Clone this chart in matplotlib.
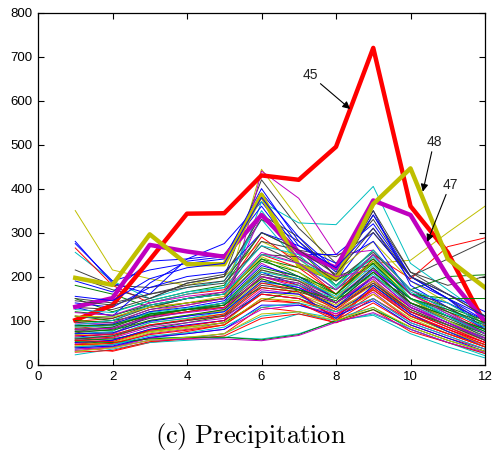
import matplotlib
matplotlib.use('Agg')
import matplotlib.pyplot as plt

months = list(range(1, 13))

# highlighted stations
s45 = [101, 135, 238, 343, 344, 430, 420, 495, 720, 360, 255, 92]
s47 = [131, 151, 272, 257, 245, 340, 255, 220, 373, 340, 200, 98]
s48 = [197, 181, 296, 228, 228, 386, 225, 195, 365, 446, 240, 175]

series = [
    [62, 70, 110, 125, 140, 210, 180, 140, 190, 120, 90, 60],
    [45, 55, 80, 95, 110, 160, 150, 120, 170, 110, 75, 45],
    [98, 105, 130, 140, 150, 250, 220, 160, 240, 160, 120, 80],
    [255, 190, 150, 175, 190, 330, 230, 170, 250, 150, 110, 60],
    [75, 85, 120, 135, 150, 230, 190, 150, 220, 130, 90, 55],
    [350, 215, 195, 180, 200, 280, 240, 180, 230, 237, 300, 360],
    [215, 180, 175, 190, 205, 330, 280, 200, 340, 210, 160, 110],
    [280, 185, 160, 240, 275, 370, 260, 190, 300, 200, 150, 100],
    [180, 160, 130, 150, 160, 240, 200, 170, 230, 150, 100, 70],
    [265, 180, 140, 160, 170, 290, 230, 160, 250, 195, 268, 288],
    [35, 45, 60, 62, 62, 58, 70, 98, 115, 80, 50, 20],
    [55, 60, 85, 95, 105, 170, 160, 120, 175, 110, 80, 50],
    [85, 90, 120, 135, 150, 444, 330, 210, 280, 190, 140, 90],
    [130, 125, 150, 185, 200, 420, 310, 230, 330, 200, 240, 280],
    [275, 190, 215, 230, 240, 400, 280, 210, 350, 180, 130, 80],
    [150, 120, 145, 165, 180, 300, 260, 180, 260, 170, 200, 204],
    [50, 40, 60, 75, 90, 150, 140, 105, 160, 100, 70, 40],
    [70, 75, 115, 125, 135, 370, 322, 318, 405, 230, 170, 110],
    [40, 45, 70, 80, 95, 440, 378, 250, 260, 170, 120, 70],
    [60, 65, 95, 105, 115, 190, 160, 130, 180, 120, 85, 55],
    [95, 100, 130, 150, 165, 280, 260, 245, 300, 200, 150, 90],
    [190, 165, 235, 240, 250, 360, 250, 250, 320, 200, 150, 80],
    [110, 100, 115, 125, 130, 175, 165, 140, 200, 150, 120, 90],
    [40, 30, 50, 60, 70, 130, 120, 95, 140, 90, 60, 35],
    [30, 40, 55, 60, 70, 110, 120, 105, 130, 80, 50, 25],
    [48, 55, 78, 88, 100, 160, 150, 115, 165, 100, 70, 45],
    [100, 95, 110, 125, 140, 215, 190, 160, 200, 140, 110, 80],
    [72, 80, 105, 120, 135, 215, 195, 150, 210, 140, 100, 65],
    [140, 130, 175, 200, 210, 300, 270, 230, 280, 160, 140, 100],
    [55, 58, 75, 85, 95, 145, 170, 150, 180, 120, 90, 60],
    [82, 90, 110, 120, 130, 200, 180, 130, 190, 130, 95, 60],
    [105, 110, 140, 160, 175, 350, 240, 180, 250, 150, 115, 75],
    [65, 70, 100, 110, 125, 200, 175, 140, 195, 120, 85, 50],
    [45, 50, 75, 85, 95, 165, 155, 125, 170, 110, 75, 45],
    [150, 140, 160, 175, 185, 270, 230, 200, 230, 140, 110, 80],
    [88, 92, 120, 130, 145, 225, 200, 150, 215, 150, 110, 70],
    [120, 112, 135, 150, 160, 240, 220, 190, 240, 160, 130, 100],
    [58, 62, 90, 100, 110, 175, 165, 100, 175, 115, 80, 50],
    [22, 35, 50, 55, 60, 90, 115, 100, 112, 70, 40, 15],
    [35, 40, 60, 70, 80, 125, 135, 115, 150, 95, 65, 35],
    [68, 72, 100, 112, 122, 195, 170, 135, 190, 125, 90, 60],
    [200, 170, 150, 185, 200, 340, 290, 200, 350, 210, 180, 200],
    [130, 110, 185, 235, 245, 390, 290, 215, 340, 200, 160, 120],
    [80, 85, 115, 125, 140, 220, 200, 160, 230, 150, 110, 75],
    s45,
    [60, 65, 95, 105, 120, 185, 180, 150, 205, 135, 100, 55],
    s47,
    s48,
    [110, 105, 135, 150, 160, 250, 245, 190, 255, 170, 130, 85],
    [50, 55, 80, 90, 100, 165, 160, 105, 180, 115, 75, 40],
    [100, 95, 125, 140, 150, 235, 210, 160, 235, 160, 150, 150],
    [28, 32, 52, 58, 65, 105, 115, 95, 125, 75, 50, 25],
    [125, 118, 145, 165, 175, 270, 250, 175, 260, 170, 140, 90],
    [92, 95, 125, 135, 150, 340, 240, 200, 215, 135, 95, 55],
    [42, 48, 72, 82, 90, 150, 145, 120, 160, 105, 70, 40],
    [78, 82, 110, 125, 135, 205, 190, 140, 210, 140, 105, 70],
    [38, 42, 62, 70, 80, 135, 135, 110, 145, 90, 60, 30],
    [52, 50, 58, 62, 62, 56, 68, 100, 125, 85, 55, 30],
    [65, 68, 90, 102, 115, 185, 170, 125, 185, 120, 85, 50],
    [90, 100, 135, 150, 160, 250, 230, 170, 245, 165, 125, 85],
    [32, 38, 55, 58, 58, 54, 66, 96, 118, 80, 50, 28],
    [110, 108, 130, 140, 155, 245, 210, 150, 235, 150, 100, 60],
    [58, 65, 88, 100, 112, 180, 170, 130, 185, 125, 90, 55],
    [155, 145, 195, 220, 230, 380, 270, 220, 310, 190, 150, 110],
    [75, 78, 100, 112, 125, 200, 185, 140, 210, 140, 110, 80],
    [45, 48, 68, 78, 90, 145, 140, 100, 150, 100, 70, 40],
    [85, 88, 118, 128, 140, 210, 195, 155, 225, 150, 110, 70],
    [118, 112, 140, 155, 165, 255, 230, 170, 250, 160, 115, 70],
    [30, 38, 55, 62, 70, 115, 120, 100, 130, 85, 55, 30],
    [145, 135, 160, 180, 190, 300, 260, 205, 310, 200, 160, 110],
    [70, 72, 98, 110, 120, 190, 175, 130, 200, 130, 95, 60],
    [88, 90, 112, 125, 135, 195, 170, 145, 220, 150, 125, 95],
    [55, 52, 78, 88, 100, 160, 150, 110, 170, 110, 80, 45],
    [40, 45, 65, 72, 85, 130, 140, 120, 150, 95, 65, 35],
    [80, 82, 108, 118, 128, 200, 185, 140, 200, 130, 95, 60],
]

highlight = [45, 47, 48]

# matlab default colour order
cycle = ['#0000FF', '#008000', '#FF0000', '#00BFBF', '#BF00BF', '#BFBF00', '#404040']

plt.rcParams['font.family'] = ['Liberation Sans', 'DejaVu Sans']
plt.rcParams['mathtext.fontset'] = 'cm'

fig = plt.figure(figsize=(4.92, 4.63), dpi=100)
ax = fig.add_axes([38/492, 1 - 364.5/463, (485 - 38)/492, (364.5 - 12.7)/463])

for i, s in enumerate(series):
    num = i + 1
    c = cycle[i % len(cycle)]
    if num in highlight:
        ax.plot(months, s, color=c, lw=3.2, zorder=2 + i * 0.01)
    else:
        ax.plot(months, s, color=c, lw=0.7, zorder=2 + i * 0.01)

ax.set_xlim(0, 12)
ax.set_ylim(0, 800)
ax.set_xticks(range(0, 13, 2))
ax.set_yticks(range(0, 801, 100))
ax.tick_params(direction='in', top=True, right=True, length=4, width=0.8, labelsize=9.5, pad=4)
ax.tick_params(axis='x', pad=5)
for sp in ax.spines.values():
    sp.set_linewidth(0.9)

arr = dict(arrowstyle='-|>', color='k', lw=0.8, mutation_scale=11, shrinkA=0, shrinkB=0)
ax.annotate('45', xy=(8.38, 581), xytext=(7.30, 659), fontsize=10, ha='center', va='center',
            color='#222222', arrowprops=arr, zorder=10)
ax.annotate('48', xy=(10.33, 393), xytext=(10.63, 506), fontsize=10, ha='center', va='center',
            color='#222222', arrowprops=arr, zorder=10)
ax.annotate('47', xy=(10.45, 279), xytext=(11.06, 409), fontsize=10, ha='center', va='center',
            color='#222222', arrowprops=arr, zorder=10)

fig.text(251/492, 1 - 437/463, r'$\mathrm{(c)\ Precipitation}$', fontsize=19, ha='center', va='center')

fig.savefig('out.png', dpi=100)
